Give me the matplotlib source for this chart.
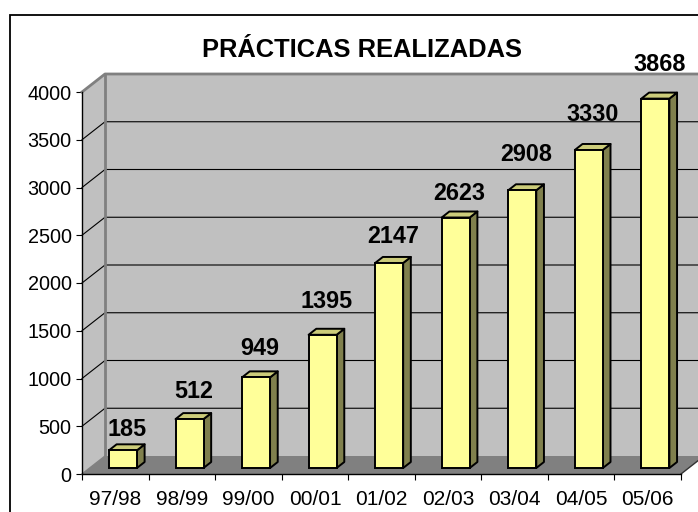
import matplotlib
matplotlib.use("Agg")
import matplotlib.pyplot as plt
from matplotlib.patches import Polygon, Rectangle

# data
seasons = ["97/98", "98/99", "99/00", "00/01", "01/02", "02/03", "03/04", "04/05", "05/06"]
practicas = [185, 512, 949, 1395, 2147, 2623, 2908, 3330, 3868]
y_ticks = [0, 500, 1000, 1500, 2000, 2500, 3000, 3500, 4000]

# label gap above bar top (px), Excel puts them a bit unevenly
label_gap = [8, 15, 16, 21, 14, 12, 23, 23, 22]

plt.rcParams["font.family"] = ["Liberation Sans", "DejaVu Sans"]

W, H = 698, 512
fig = plt.figure(figsize=(W / 100, H / 100), dpi=100)
ax = fig.add_axes([82 / W, 1 - 474 / H, (681 - 82) / W, (474 - 92) / H])
ax.set_xlim(0, len(seasons))
ax.set_ylim(0, 4000)
ax.patch.set_visible(False)

# 3d depth, in data units
px_x = (681 - 82) / len(seasons)
px_y = (474 - 92) / 4000
dx = 23 / px_x
dy = 18 / px_y
n = len(seasons)
ymax = 4000

wall = "#c0c0c0"
edge = "#808080"

# side wall, back wall, floor
ax.add_patch(Polygon([(0, 0), (0, ymax), (dx, ymax + dy), (dx, dy)], closed=True,
                     fc=wall, ec="none", clip_on=False, zorder=1))
ax.add_patch(Polygon([(dx, dy), (dx, ymax + dy), (n + dx, ymax + dy), (n + dx, dy)], closed=True,
                     fc=wall, ec="none", clip_on=False, zorder=1))
ax.add_patch(Polygon([(0, 0), (n, 0), (n + dx, dy), (dx, dy)], closed=True,
                     fc="#808080", ec="none", clip_on=False, zorder=2))

# gridlines
for v in y_ticks[1:-1]:
    ax.plot([0, dx, n + dx], [v, v + dy, v + dy], color="black", lw=0.8,
            clip_on=False, zorder=1.5)
# wall edges
ax.plot([0, dx, n + dx], [ymax, ymax + dy, ymax + dy], color=edge, lw=2, clip_on=False, zorder=1.6)
ax.plot([dx, dx], [dy, ymax + dy], color=edge, lw=2, clip_on=False, zorder=1.6)
ax.plot([0, dx], [0, dy], color=edge, lw=1, clip_on=False, zorder=2.1)
ax.plot([n, n + dx], [0, dy], color="#333333", lw=1, clip_on=False, zorder=2.1)

# bars
bw = 28 / px_x
fx, fy = dx / 3, dy / 3
for i, v in enumerate(practicas):
    x0 = i + 0.5 - bw / 2 + fx
    x1 = x0 + bw
    y0 = fy
    y1 = v + fy
    ax.add_patch(Polygon([(x1, y0), (x1, y1), (x1 + fx, y1 + fy), (x1 + fx, y0 + fy)], closed=True,
                         fc="#80804d", ec="black", lw=1.4, joinstyle="round", clip_on=False, zorder=3))
    ax.add_patch(Polygon([(x0, y1), (x1, y1), (x1 + fx, y1 + fy), (x0 + fx, y1 + fy)], closed=True,
                         fc="#cccc7a", ec="black", lw=1.4, joinstyle="round", clip_on=False, zorder=3))
    ax.add_patch(Rectangle((x0, y0), bw, v, fc="#ffff99", ec="black", lw=1.4,
                           clip_on=False, zorder=4))
    ax.annotate(str(v), xy=(i + 0.5 + dx / 2, v + 2 * fy), xytext=(0, label_gap[i] * 0.72),
                textcoords="offset points", ha="center", va="baseline",
                fontsize=16.8, fontweight="bold", zorder=5, annotation_clip=False)

# axes
for s in ["top", "right"]:
    ax.spines[s].set_visible(False)
for s in ["left", "bottom"]:
    ax.spines[s].set_color("black")
    ax.spines[s].set_linewidth(1)
    ax.spines[s].set_zorder(6)

ax.set_yticks(y_ticks)
ax.tick_params(axis="y", direction="out", length=4.5, width=0.8, labelsize=14.3, pad=3)
ax.set_xticks(range(n + 1))
ax.set_xticklabels([])
ax.set_xticks([i + 0.5 for i in range(n)], minor=True)
ax.set_xticklabels(seasons, minor=True)
ax.tick_params(axis="x", which="major", direction="out", length=4, width=0.8)
ax.tick_params(axis="x", which="minor", length=0, labelsize=15, pad=11.5)

fig.text(362 / W, 1 - 57 / H, "PRÁCTICAS REALIZADAS", ha="center", va="baseline",
         fontsize=18.4, fontweight="bold")

# chart border
fig.patches.append(Rectangle((10 / W, -0.1), 1.2, 1.1 - 15 / H, transform=fig.transFigure,
                             fill=False, ec="black", lw=1.3, zorder=10))

fig.savefig("out.png", dpi=100)
